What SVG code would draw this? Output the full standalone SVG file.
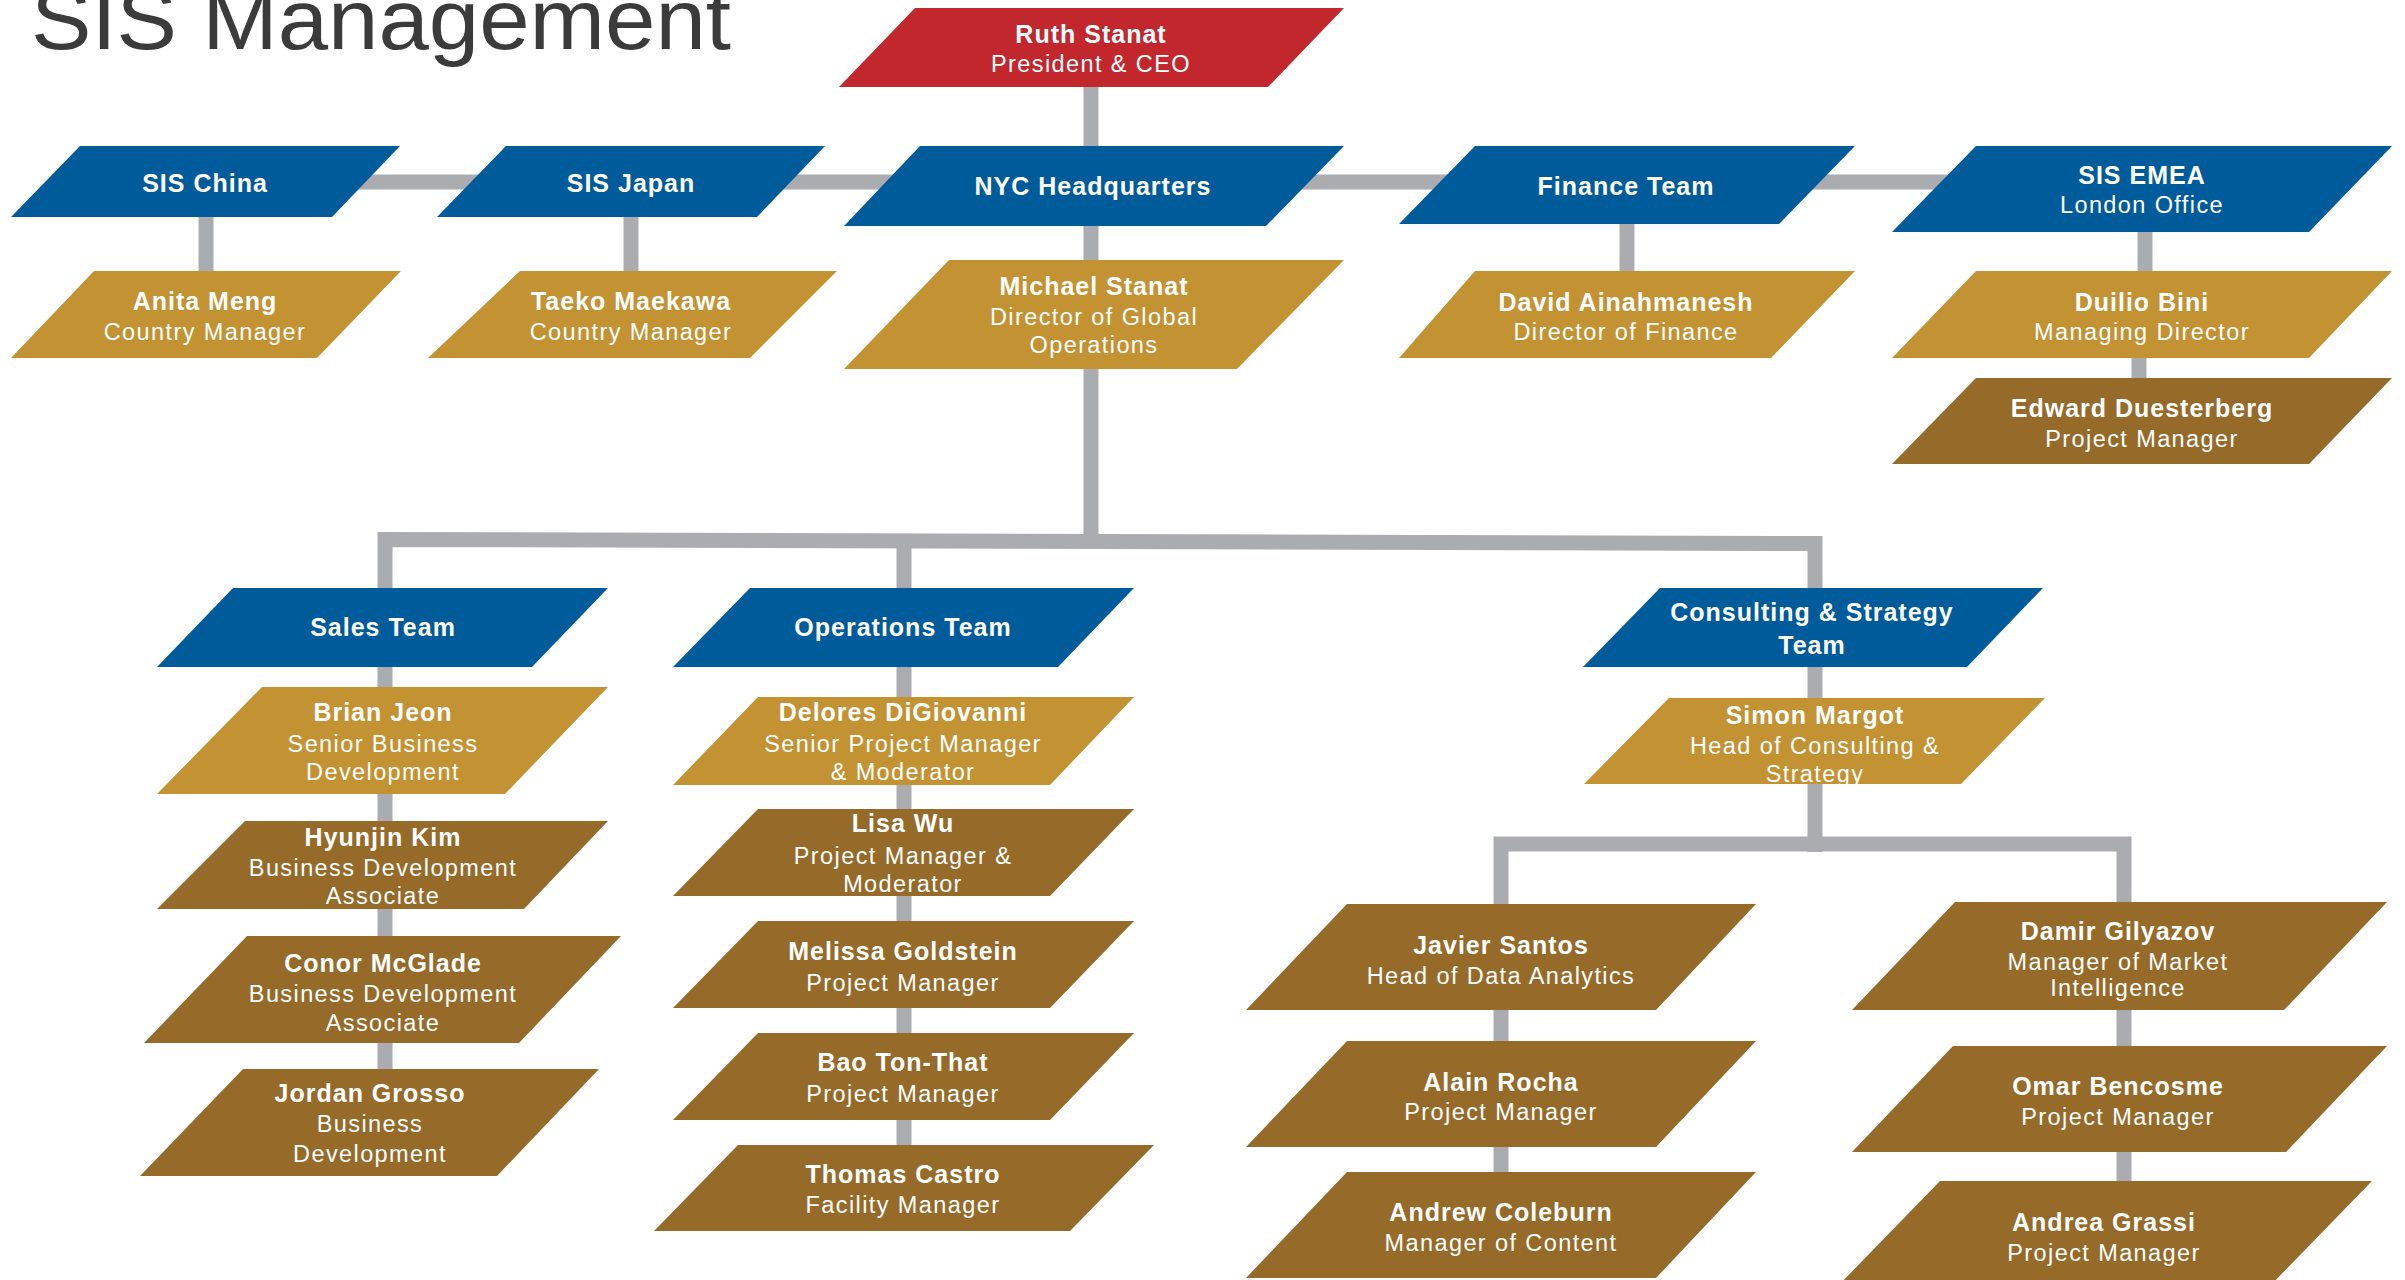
<svg xmlns="http://www.w3.org/2000/svg" width="2405" height="1280" viewBox="0 0 2405 1280">
<style>
.red{fill:#C1272D}
.blue{fill:#005B9A}
.gold{fill:#C39232}
.brown{fill:#966A29}
.conn{fill:none;stroke:#ABACB0;stroke-width:15;stroke-linejoin:miter}
text{fill:#FFFFFF;font-family:"Liberation Sans",Arial,sans-serif;text-anchor:middle}
.n{font-size:25px;font-weight:bold;letter-spacing:1px}
.t{font-size:23.5px;letter-spacing:1.4px}
.title{fill:#3B3B3B;font-size:86px;text-anchor:start}
</style>
<rect width="2405" height="1280" fill="#FFFFFF"/>
<text class="title" x="31" y="49" textLength="700" lengthAdjust="spacingAndGlyphs">SIS Management</text>
<g id="connectors">
<path class="conn" d="M1091 87 V146"/>
<path class="conn" d="M206 182 H2145"/>
<path class="conn" d="M206 217 V271"/>
<path class="conn" d="M631 217 V271"/>
<path class="conn" d="M1091 226 V540"/>
<path class="conn" d="M1627 224 V271"/>
<path class="conn" d="M2145 232 V271"/>
<path class="conn" d="M2139 358 V378"/>
<path class="conn" d="M385 1069 V539.5 L1815 543.5 V588"/>
<path class="conn" d="M904 541 V1145"/>
<path class="conn" d="M1815 667 V698"/>
<path class="conn" d="M1815 784 V852"/>
<path class="conn" d="M1501 1172 V844 H2124 V1181"/>
</g>
<g id="ruth"><polygon class="red" points="915,8 1344,8 1268,87 839,87"/><text class="n" x="1091" y="43">Ruth Stanat</text><text class="t" x="1091" y="72">President &amp; CEO</text></g>
<g id="sis-china"><polygon class="blue" points="80,146 400,146 332,217 11,217"/><text class="n" x="205" y="192">SIS China</text></g>
<g id="sis-japan"><polygon class="blue" points="506,146 825,146 757,217 437,217"/><text class="n" x="631" y="192">SIS Japan</text></g>
<g id="nyc"><polygon class="blue" points="920,146 1344,146 1266,226 844,226"/><text class="n" x="1093" y="195">NYC Headquarters</text></g>
<g id="finance"><polygon class="blue" points="1475,146 1855,146 1779,224 1399,224"/><text class="n" x="1626" y="195">Finance Team</text></g>
<g id="sis-emea"><polygon class="blue" points="1976,146 2392,146 2309,232 1892,232"/><text class="n" x="2142" y="184">SIS EMEA</text><text class="t" x="2142" y="213">London Office</text></g>
<g id="anita"><polygon class="gold" points="94,271 401,271 317,358 11,358"/><text class="n" x="205" y="310">Anita Meng</text><text class="t" x="205" y="340">Country Manager</text></g>
<g id="taeko"><polygon class="gold" points="520,271 837,271 750,358 428,358"/><text class="n" x="631" y="310">Taeko Maekawa</text><text class="t" x="631" y="340">Country Manager</text></g>
<g id="michael"><polygon class="gold" points="949,260 1344,260 1237,369 844,369"/><text class="n" x="1094" y="295">Michael Stanat</text><text class="t" x="1094" y="325">Director of Global</text><text class="t" x="1094" y="353">Operations</text></g>
<g id="david"><polygon class="gold" points="1475,271 1855,271 1771,358 1399,358"/><text class="n" x="1626" y="311">David Ainahmanesh</text><text class="t" x="1626" y="340">Director of Finance</text></g>
<g id="duilio"><polygon class="gold" points="1976,271 2392,271 2309,358 1892,358"/><text class="n" x="2142" y="311">Duilio Bini</text><text class="t" x="2142" y="340">Managing Director</text></g>
<g id="edward"><polygon class="brown" points="1976,378 2392,378 2309,464 1892,464"/><text class="n" x="2142" y="417">Edward Duesterberg</text><text class="t" x="2142" y="447">Project Manager</text></g>
<g id="sales"><polygon class="blue" points="233,588 608,588 532,667 157,667"/><text class="n" x="383" y="636">Sales Team</text></g>
<g id="operations"><polygon class="blue" points="750,588 1134,588 1058,667 673,667"/><text class="n" x="903" y="636">Operations Team</text></g>
<g id="consulting"><polygon class="blue" points="1660,588 2043,588 1967,667 1583,667"/><text class="n" x="1812" y="621">Consulting &amp; Strategy</text><text class="n" x="1812" y="654">Team</text></g>
<g id="brian"><polygon class="gold" points="262,687 608,687 505,794 157,794"/><text class="n" x="383" y="721">Brian Jeon</text><text class="t" x="383" y="752">Senior Business</text><text class="t" x="383" y="780">Development</text></g>
<g id="hyunjin"><polygon class="brown" points="245,821 608,821 524,909 157,909"/><text class="n" x="383" y="846">Hyunjin Kim</text><text class="t" x="383" y="876">Business Development</text><text class="t" x="383" y="904">Associate</text></g>
<g id="conor"><polygon class="brown" points="247,936 621,936 519,1043 144,1043"/><text class="n" x="383" y="972">Conor McGlade</text><text class="t" x="383" y="1002">Business Development</text><text class="t" x="383" y="1031">Associate</text></g>
<g id="jordan"><polygon class="brown" points="243,1069 599,1069 497,1176 140,1176"/><text class="n" x="370" y="1102">Jordan Grosso</text><text class="t" x="370" y="1132">Business</text><text class="t" x="370" y="1162">Development</text></g>
<g id="delores"><polygon class="gold" points="758,697 1134,697 1050,785 673,785"/><text class="n" x="903" y="721">Delores DiGiovanni</text><text class="t" x="903" y="752">Senior Project Manager</text><text class="t" x="903" y="780">&amp; Moderator</text></g>
<g id="lisa"><polygon class="brown" points="758,809 1134,809 1050,896 673,896"/><text class="n" x="903" y="832">Lisa Wu</text><text class="t" x="903" y="864">Project Manager &amp;</text><text class="t" x="903" y="892">Moderator</text></g>
<g id="melissa"><polygon class="brown" points="758,921 1134,921 1050,1008 673,1008"/><text class="n" x="903" y="960">Melissa Goldstein</text><text class="t" x="903" y="991">Project Manager</text></g>
<g id="bao"><polygon class="brown" points="758,1033 1134,1033 1050,1120 673,1120"/><text class="n" x="903" y="1071">Bao Ton-That</text><text class="t" x="903" y="1102">Project Manager</text></g>
<g id="thomas"><polygon class="brown" points="738,1145 1154,1145 1070,1231 654,1231"/><text class="n" x="903" y="1183">Thomas Castro</text><text class="t" x="903" y="1213">Facility Manager</text></g>
<g id="simon"><polygon class="gold" points="1669,698 2045,698 1961,784 1584,784"/><text class="n" x="1815" y="724">Simon Margot</text><text class="t" x="1815" y="754">Head of Consulting &amp;</text><text class="t" x="1815" y="782">Strategy</text></g>
<g id="javier"><polygon class="brown" points="1347,904 1756,904 1656,1010 1246,1010"/><text class="n" x="1501" y="954">Javier Santos</text><text class="t" x="1501" y="984">Head of Data Analytics</text></g>
<g id="alain"><polygon class="brown" points="1347,1041 1756,1041 1656,1147 1246,1147"/><text class="n" x="1501" y="1091">Alain Rocha</text><text class="t" x="1501" y="1120">Project Manager</text></g>
<g id="andrew"><polygon class="brown" points="1347,1172 1756,1172 1656,1278 1246,1278"/><text class="n" x="1501" y="1221">Andrew Coleburn</text><text class="t" x="1501" y="1251">Manager of Content</text></g>
<g id="damir"><polygon class="brown" points="1955,902 2387,902 2284,1010 1852,1010"/><text class="n" x="2118" y="940">Damir Gilyazov</text><text class="t" x="2118" y="970">Manager of Market</text><text class="t" x="2118" y="996">Intelligence</text></g>
<g id="omar"><polygon class="brown" points="1953,1046 2387,1046 2286,1152 1852,1152"/><text class="n" x="2118" y="1095">Omar Bencosme</text><text class="t" x="2118" y="1125">Project Manager</text></g>
<g id="andrea"><polygon class="brown" points="1940,1181 2372,1181 2268,1288 1836,1288"/><text class="n" x="2104" y="1231">Andrea Grassi</text><text class="t" x="2104" y="1261">Project Manager</text></g>
</svg>
